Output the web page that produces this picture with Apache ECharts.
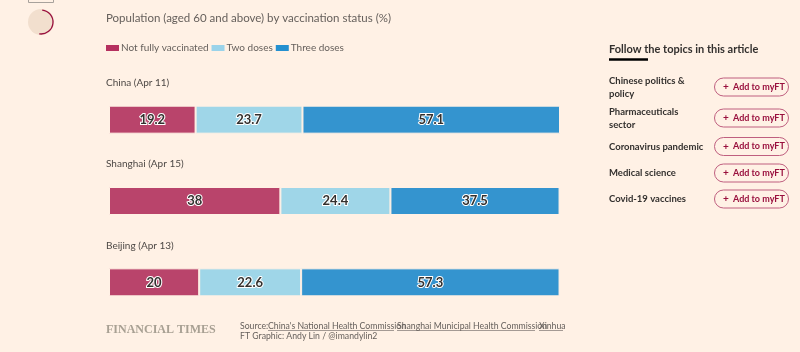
<!DOCTYPE html>
<html>
<head>
<meta charset="utf-8">
<style>
html, body { margin: 0; padding: 0; background: #fff1e5; }
#chart { width: 800px; height: 352px; }
</style>
<script src="https://cdn.jsdelivr.net/npm/echarts@6/dist/echarts.min.js"></script>
</head>
<body>
<div id="chart"></div>
<script>
// values
var places = ['China (Apr 11)', 'Shanghai (Apr 15)', 'Beijing (Apr 13)'];
var notFully = [19.2, 38, 20];
var twoDoses = [23.7, 24.4, 22.6];
var threeDoses = [57.1, 37.5, 57.3];
var topics = [
	['Chinese politics &', 'policy'],
	['Pharmaceuticals', 'sector'],
	['Coronavirus pandemic'],
	['Medical science'],
	['Covid-19 vaccines']
];
var topicRows = [87, 118, 146.5, 173, 199];

var font = 'Lato';
var grey = '#66605c';
var barLabel = {
	show: true,
	position: 'inside',
	fontFamily: font,
	fontSize: 13,
	fontWeight: 'bold',
	color: '#33302e',
	textBorderColor: '#fff',
	textBorderWidth: 2
};

function makeBar(name, values, color) {
	return {
		name: name,
		type: 'bar',
		stack: 'all',
		data: values,
		barWidth: 28,
		silent: true,
		itemStyle: { color: color, borderColor: '#fff1e5', borderWidth: 1 },
		label: barLabel
	};
}

function text(x, y, str, size, color, weight, extra) {
	var style = { x: x, y: y, text: str, fontFamily: font, fontSize: size, fill: color, fontWeight: weight || 'normal', textVerticalAlign: 'middle' };
	for (var k in extra) { style[k] = extra[k]; }
	return { type: 'text', style: style, silent: true };
}

function rule(x1, x2, y, color, width) {
	return { type: 'line', shape: { x1: x1, y1: y, x2: x2, y2: y }, style: { stroke: color, lineWidth: width }, silent: true };
}

var extras = [
	// loader bits top left
	{ type: 'rect', shape: { x: 28.5, y: -4, width: 25, height: 6.5 }, style: { fill: 'none', stroke: '#a8a29c', lineWidth: 1 }, silent: true },
	{ type: 'circle', shape: { cx: 41, cy: 22, r: 13 }, style: { fill: '#f2dfce' }, silent: true },
	{ type: 'arc', shape: { cx: 41, cy: 22, r: 12, startAngle: -Math.PI / 2 + 0.1, endAngle: Math.PI / 2 + 0.15 }, style: { fill: 'none', stroke: '#990f3d', lineWidth: 1.3 }, silent: true },
	text(106, 18, 'Population (aged 60 and above) by vaccination status (%)', 11.5, grey),
	// footer
	text(106, 330, 'FINANCIAL TIMES', 12, '#a8a093', 'bold', { fontFamily: 'Liberation Serif' }),
	text(240, 326, 'Source:', 8.7, grey),
	text(268, 326, "China's National Health Commission", 8.7, grey),
	rule(268, 394, 330.5, grey, 0.6),
	text(397, 326, 'Shanghai Municipal Health Commission', 8.7, grey),
	rule(397, 535, 330.5, grey, 0.6),
	text(539, 326, 'Xinhua', 8.7, grey),
	rule(539, 563, 330.5, grey, 0.6),
	text(240, 336.5, 'FT Graphic: Andy Lin / @imandylin2', 8.7, grey),
	// side panel
	text(609, 49, 'Follow the topics in this article', 11, '#33302e', 'bold'),
	rule(609, 648, 59.5, '#000', 2.5)
];

topics.forEach(function (lines, i) {
	var y = topicRows[i];
	lines.forEach(function (line, j) {
		extras.push(text(609, y + (lines.length === 2 ? (j === 0 ? -6.5 : 6.5) : 0), line, 9.5, '#33302e', 'bold'));
	});
	extras.push({ type: 'rect', shape: { x: 714.5, y: y - 9, width: 74, height: 18, r: 9 }, style: { fill: 'none', stroke: '#bf5f7f', lineWidth: 1 }, silent: true });
	extras.push(text(723, y, '+', 10, '#990f3d', 'bold'));
	extras.push(text(733, y, 'Add to myFT', 9, '#990f3d', 'bold'));
});

var myChart = echarts.init(document.getElementById('chart'));
myChart.setOption({
	backgroundColor: '#fff1e5',
	animation: false,
	legend: {
		left: 106,
		top: 43,
		padding: 0,
		itemWidth: 13,
		itemHeight: 6,
		itemGap: 3,
		itemStyle: { borderWidth: 0 },
		selectedMode: false,
		icon: 'rect',
		textStyle: { fontFamily: font, fontSize: 10, color: grey, padding: [0, 0, 0, -3] },
		data: [
			{ name: 'Not fully vaccinated', itemStyle: { color: '#b5305f' } },
			{ name: 'Two doses', itemStyle: { color: '#9ad3ea' } },
			{ name: 'Three doses', itemStyle: { color: '#2490d0' } }
		]
	},
	grid: { left: 109, top: 79, width: 451, height: 244 },
	xAxis: { type: 'value', min: 0, max: 100, show: false },
	yAxis: {
		type: 'category',
		inverse: true,
		data: places,
		axisLine: { show: false },
		axisTick: { show: false },
		axisLabel: {
			inside: true,
			margin: -3,
			verticalAlign: 'bottom',
			padding: [0, 0, 32, 0],
			fontFamily: font,
			fontSize: 10,
			color: '#4d4845'
		}
	},
	series: [
		makeBar('Not fully vaccinated', notFully, '#b9446b'),
		makeBar('Two doses', twoDoses, '#9fd6e8'),
		makeBar('Three doses', threeDoses, '#3494cf')
	],
	graphic: { elements: extras }
});
</script>
</body>
</html>
